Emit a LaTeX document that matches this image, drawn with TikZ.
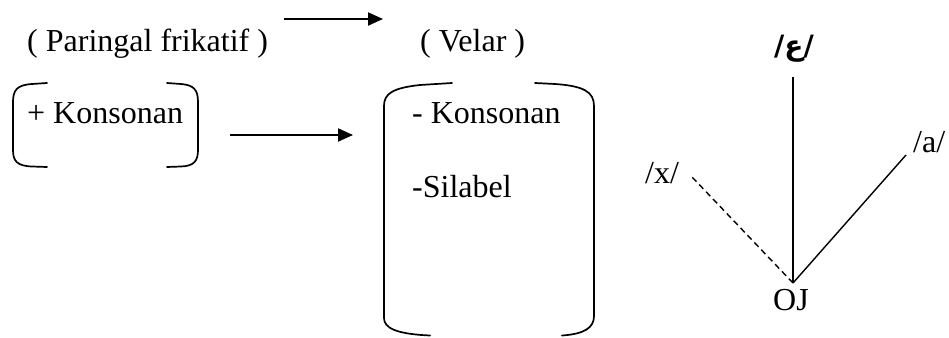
\documentclass[tikz,border=0pt]{standalone}
\usepackage{fontspec}
\setmainfont{Liberation Serif}
\newfontfamily\arabicfont[Script=Arabic]{DejaVu Sans}
\TeXXeTstate=1
\usetikzlibrary{arrows.meta}
\tikzset{
  txt/.style={inner sep=0pt, anchor=base west, font=\fontsize{32}{36}\selectfont},
  brk/.style={line width=1.7pt, line cap=round},
  arr/.style={line width=2pt, -{Triangle[length=15pt,width=13pt]}},
  ray/.style={line width=1.4pt},
  dray/.style={line width=1.4pt, dash pattern=on 6pt off 4pt},
}
\begin{document}
\begin{tikzpicture}[x=1pt,y=-1pt]
\useasboundingbox (0,0) rectangle (949,337);
% labels
\node[txt] (pf) at (27,51.5) {( Paringal frikatif )};
\node[txt] (vel) at (420,51.5) {( Velar )};
\node[txt] (pk) at (27,123) {+ Konsonan};
\node[txt] (mk) at (412,123) {- Konsonan};
\node[txt] (sil) at (412,197) {-Silabel};
\node[txt] (oj) at (773,310) {OJ};
\node[txt] (a) at (913,152) {/a/};
\node[txt] (x) at (645,183) {/x/};
\node[inner sep=0pt, font=\fontsize{28}{30}\selectfont\bfseries\arabicfont] (ain) at (794,49) {/\beginR ع\endR/};
% arrows
\coordinate (t1) at (284,19); \coordinate (t2) at (383,19);
\coordinate (m1) at (230,135); \coordinate (m2) at (353,135);
\draw[arr] (t1) -- (t2);
\draw[arr] (m1) -- (m2);
% small bracket
\draw[brk] (47,83) -- (32,84) .. controls (17,85) and (13,90) .. (13,102) -- (13,150) .. controls (13,161) and (17,166) .. (32,166.5) -- (47,167);
\draw[brk] (167,83) -- (181,84) .. controls (194,85) and (198,90) .. (198,102) -- (198,150) .. controls (198,161) and (194,166) .. (181,166.5) -- (167,167);
% big bracket
\draw[brk] (452,83) -- (420,85) .. controls (392,88) and (384,94) .. (384,106) -- (384,318) .. controls (384,328) and (396,334) .. (430,335.5);
\draw[brk] (535,83) -- (555,84) .. controls (584,86) and (594,92) .. (594,106) -- (594,316) .. controls (594,328) and (584,334) .. (562,335.5);
% rays
\coordinate (c) at (793,283);
\coordinate (top) at (793,77);
\coordinate (ra) at (906,155);
\coordinate (rx) at (692,177);
\draw[ray] (c) -- (top);
\draw[ray] (c) -- (ra);
\draw[dray] (c) -- (rx);
\end{tikzpicture}
\end{document}
